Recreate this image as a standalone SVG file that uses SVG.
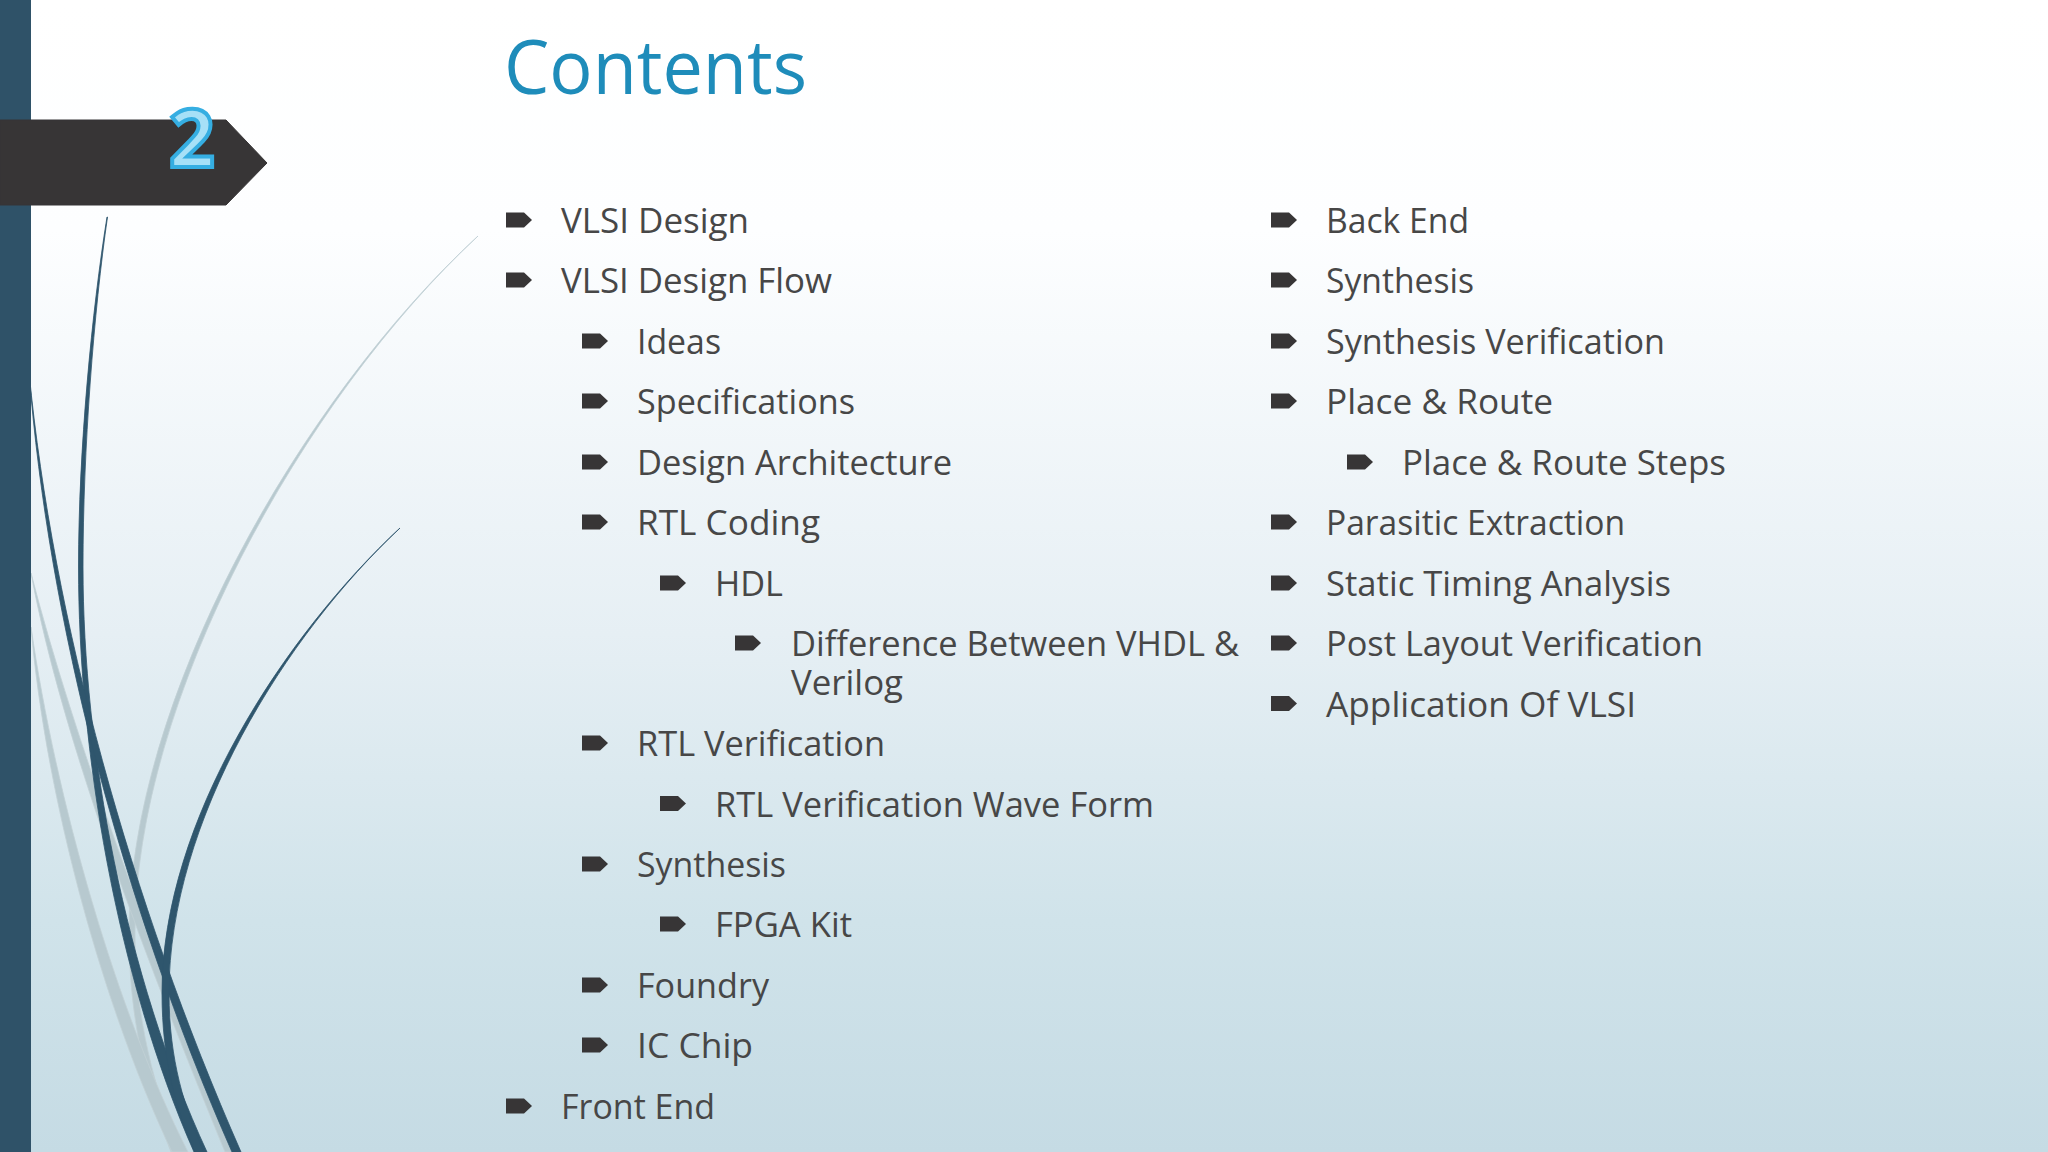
<svg xmlns="http://www.w3.org/2000/svg" width="2048" height="1152" viewBox="0 0 2048 1152">
<style>
.t{font-family:"Open Sans","Noto Sans","Liberation Sans",sans-serif;font-size:35px;fill:#474747}
.h{font-family:"Open Sans","Noto Sans","Liberation Sans",sans-serif;font-size:75px;fill:#1e8cba}
.n{font-family:"Open Sans","Noto Sans","Liberation Sans",sans-serif;font-size:80px;font-weight:700;fill:#a6e0f7;stroke:#35aee2;stroke-width:4px}
.d{fill:#2f566d;stroke:#2f566d;stroke-width:.8}
.g{fill:#b7c9cf;stroke:#c2d0d5;stroke-width:.8}
</style>
<defs>
<linearGradient id="bg" x1="0" y1="0" x2="0" y2="1">
<stop offset="0" stop-color="#ffffff"/><stop offset="0.2" stop-color="#fdfeff"/><stop offset="0.55" stop-color="#e6eff4"/><stop offset="0.8" stop-color="#d0e3ea"/><stop offset="1" stop-color="#c5dbe4"/>
</linearGradient>
<path id="b" d="M0,-7.5 H18 L26,0 L18,7.5 H0 Z" fill="#373536"/>
</defs>
<rect id="background" width="2048" height="1152" fill="url(#bg)"/>
<g id="curves">
<path class="g" d="M478,236 C300,400 129,700 129,933 C129,1020 147,1090 171,1152 L180,1152 C155,1090 135,1020 135,933 C135,700 302,400 478,236 Z"/>
<path class="g" d="M31,573 C62,740 146,960 225,1152 L235,1152 C156,960 74,740 31,573 Z"/>
<path class="g" d="M31,627 C46,800 104,1010 172,1152 L188,1152 C116,1010 56,800 31,627 Z"/>
<path class="d" d="M107,217 C92,310 78.5,450 78.5,567 C78.5,750 116,975 194,1152 L207,1152 C125,975 83,750 83,567 C83,450 94,310 107.5,217 Z"/>
<path class="d" d="M29,372 C48,620 121,900 232,1152 L241,1152 C130,900 53,620 29,372 Z"/>
<path class="d" d="M400,528 C285,635 162,820 162,993 C162,1060 176,1110 195,1152 L204,1152 C185,1110 169,1060 169,993 C169,820 286,635 400,528 Z"/>
</g>
<rect id="rail" width="31" height="1152" fill="#2f5268"/>
<g id="tag">
<path d="M0,120 H226 L267,163 L226,205 H0 Z" fill="#373536" stroke="#373536" stroke-width="1" stroke-linejoin="round"/>
<text class="n" x="169" y="167">2</text>
</g>
<text id="title" class="h" x="504" y="94" textLength="303" lengthAdjust="spacingAndGlyphs">Contents</text>
<g id="left-column">
<g id="i01"><use href="#b" x="506" y="220"/><text class="t" x="561" y="233" textLength="188" lengthAdjust="spacingAndGlyphs">VLSI Design</text></g>
<g id="i02"><use href="#b" x="506" y="280"/><text class="t" x="561" y="293" textLength="271" lengthAdjust="spacingAndGlyphs">VLSI Design Flow</text></g>
<g id="i03"><use href="#b" x="582" y="341"/><text class="t" x="637" y="354" textLength="84" lengthAdjust="spacingAndGlyphs">Ideas</text></g>
<g id="i04"><use href="#b" x="582" y="401"/><text class="t" x="637" y="414" textLength="218" lengthAdjust="spacingAndGlyphs">Specifications</text></g>
<g id="i05"><use href="#b" x="582" y="462"/><text class="t" x="637" y="475" textLength="315" lengthAdjust="spacingAndGlyphs">Design Architecture</text></g>
<g id="i06"><use href="#b" x="582" y="522"/><text class="t" x="637" y="535" textLength="183" lengthAdjust="spacingAndGlyphs">RTL Coding</text></g>
<g id="i07"><use href="#b" x="660" y="583"/><text class="t" x="715" y="596" textLength="68" lengthAdjust="spacingAndGlyphs">HDL</text></g>
<g id="i08"><use href="#b" x="735" y="643"/><text class="t" x="791" y="656" textLength="448" lengthAdjust="spacingAndGlyphs">Difference Between VHDL &amp;</text><text class="t" x="791" y="695" textLength="112" lengthAdjust="spacingAndGlyphs">Verilog</text></g>
<g id="i09"><use href="#b" x="582" y="743"/><text class="t" x="637" y="756" textLength="248" lengthAdjust="spacingAndGlyphs">RTL Verification</text></g>
<g id="i10"><use href="#b" x="660" y="803.5"/><text class="t" x="715" y="816.5" textLength="439" lengthAdjust="spacingAndGlyphs">RTL Verification Wave Form</text></g>
<g id="i11"><use href="#b" x="582" y="864"/><text class="t" x="637" y="877" textLength="149" lengthAdjust="spacingAndGlyphs">Synthesis</text></g>
<g id="i12"><use href="#b" x="660" y="924"/><text class="t" x="715" y="937" textLength="137" lengthAdjust="spacingAndGlyphs">FPGA Kit</text></g>
<g id="i13"><use href="#b" x="582" y="985"/><text class="t" x="637" y="998" textLength="132" lengthAdjust="spacingAndGlyphs">Foundry</text></g>
<g id="i14"><use href="#b" x="582" y="1045"/><text class="t" x="637" y="1058" textLength="116" lengthAdjust="spacingAndGlyphs">IC Chip</text></g>
<g id="i15"><use href="#b" x="506" y="1106"/><text class="t" x="561" y="1119" textLength="154" lengthAdjust="spacingAndGlyphs">Front End</text></g>
</g>
<g id="right-column">
<g id="r01"><use href="#b" x="1271" y="220"/><text class="t" x="1326" y="233" textLength="143" lengthAdjust="spacingAndGlyphs">Back End</text></g>
<g id="r02"><use href="#b" x="1271" y="280"/><text class="t" x="1326" y="293" textLength="148" lengthAdjust="spacingAndGlyphs">Synthesis</text></g>
<g id="r03"><use href="#b" x="1271" y="341"/><text class="t" x="1326" y="354" textLength="339" lengthAdjust="spacingAndGlyphs">Synthesis Verification</text></g>
<g id="r04"><use href="#b" x="1271" y="401"/><text class="t" x="1326" y="414" textLength="227" lengthAdjust="spacingAndGlyphs">Place &amp; Route</text></g>
<g id="r05"><use href="#b" x="1347" y="462"/><text class="t" x="1402" y="475" textLength="324" lengthAdjust="spacingAndGlyphs">Place &amp; Route Steps</text></g>
<g id="r06"><use href="#b" x="1271" y="522"/><text class="t" x="1326" y="535" textLength="299" lengthAdjust="spacingAndGlyphs">Parasitic Extraction</text></g>
<g id="r07"><use href="#b" x="1271" y="583"/><text class="t" x="1326" y="596" textLength="345" lengthAdjust="spacingAndGlyphs">Static Timing Analysis</text></g>
<g id="r08"><use href="#b" x="1271" y="643"/><text class="t" x="1326" y="656" textLength="377" lengthAdjust="spacingAndGlyphs">Post Layout Verification</text></g>
<g id="r09"><use href="#b" x="1271" y="703.5"/><text class="t" x="1326" y="716.5" textLength="310" lengthAdjust="spacingAndGlyphs">Application Of VLSI</text></g>
</g>
</svg>
